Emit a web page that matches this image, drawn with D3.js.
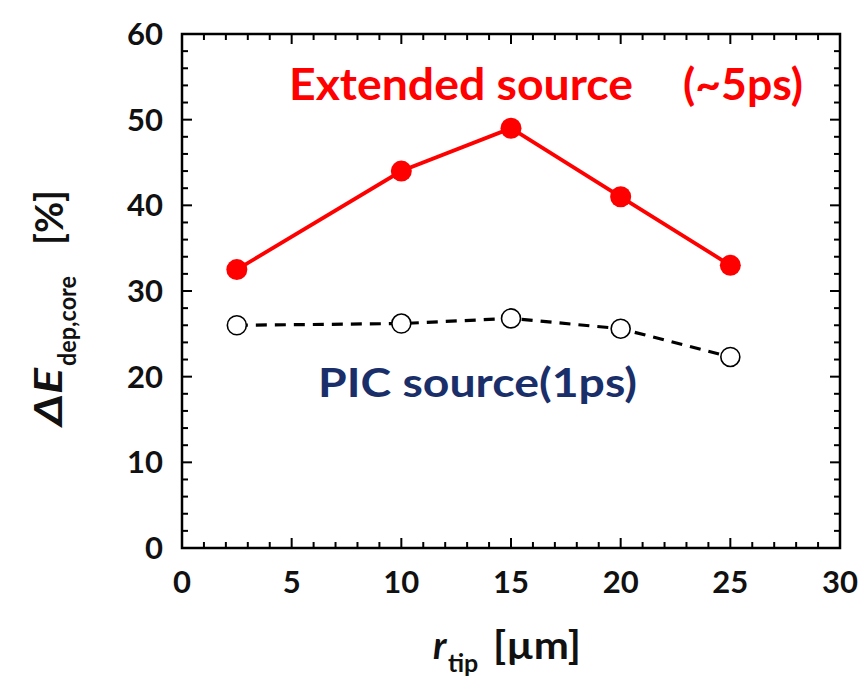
<!DOCTYPE html>
<html>
<head>
<meta charset="UTF-8" />
<title>Edep core vs r_tip</title>
<script src="https://cdn.jsdelivr.net/npm/d3@7"></script>
<style>
  html, body { margin: 0; padding: 0; background: #fff; }
  svg { display: block; }
  text { font-family: Lato, "Open Sans", sans-serif; font-weight: bold; }
</style>
</head>
<body>
<svg id="chart" width="861" height="677"></svg>
<script>
// data
const rTip = [2.5, 10, 15, 20, 25];
const extendedSource = [32.5, 44, 49, 41, 33];
const picSource = [26, 26.2, 26.8, 25.6, 22.3];
const xTicks = [0, 5, 10, 15, 20, 25, 30];
const yTicks = [0, 10, 20, 30, 40, 50, 60];

const svg = d3.select('#chart');
const plotL = 182, plotR = 840, plotT = 34, plotB = 548;

const x = d3.scaleLinear().domain([0, 30]).range([plotL, plotR]);
const y = d3.scaleLinear().domain([0, 60]).range([plotB, plotT]);

// minor + major ticks, mirrored on all four sides, pointing inward
const axes = svg.append('g').attr('stroke', '#000').attr('stroke-width', 2);
d3.range(0, 31, 1).forEach(v => {
  const len = v % 5 === 0 ? 10 : 6;
  axes.append('line').attr('x1', x(v)).attr('x2', x(v)).attr('y1', plotB).attr('y2', plotB - len);
  axes.append('line').attr('x1', x(v)).attr('x2', x(v)).attr('y1', plotT).attr('y2', plotT + len);
});
d3.range(0, 61, 2).forEach(v => {
  const len = v % 10 === 0 ? 10 : 6;
  axes.append('line').attr('y1', y(v)).attr('y2', y(v)).attr('x1', plotL).attr('x2', plotL + len);
  axes.append('line').attr('y1', y(v)).attr('y2', y(v)).attr('x1', plotR).attr('x2', plotR - len);
});
svg.append('rect')
  .attr('x', plotL).attr('y', plotT)
  .attr('width', plotR - plotL).attr('height', plotB - plotT)
  .attr('fill', 'none').attr('stroke', '#000').attr('stroke-width', 2.5);

// tick labels
svg.append('g').selectAll('text').data(xTicks).join('text')
  .attr('x', d => x(d)).attr('y', 593)
  .attr('text-anchor', 'middle').attr('font-size', 31).attr('fill', '#111')
  .text(d => d);
svg.append('g').selectAll('text').data(yTicks).join('text')
  .attr('x', 163).attr('y', d => y(d) + 11)
  .attr('text-anchor', 'end').attr('font-size', 31).attr('fill', '#111')
  .text(d => d);

// PIC source series: dashed black with open circles
const line = d3.line().x(d => x(d[0])).y(d => y(d[1]));
const picPts = rTip.map((r, i) => [r, picSource[i]]);
svg.append('path').datum(picPts)
  .attr('d', line).attr('fill', 'none')
  .attr('stroke', '#000').attr('stroke-width', 3.2).attr('stroke-dasharray', '11,8');
svg.append('g').selectAll('circle').data(picPts).join('circle')
  .attr('cx', d => x(d[0])).attr('cy', d => y(d[1])).attr('r', 9.5)
  .attr('fill', '#fff').attr('stroke', '#000').attr('stroke-width', 1.6);

// Extended source series: solid red with filled circles
const extPts = rTip.map((r, i) => [r, extendedSource[i]]);
svg.append('path').datum(extPts)
  .attr('d', line).attr('fill', 'none')
  .attr('stroke', '#ff0000').attr('stroke-width', 3.8);
svg.append('g').selectAll('circle').data(extPts).join('circle')
  .attr('cx', d => x(d[0])).attr('cy', d => y(d[1])).attr('r', 10.5)
  .attr('fill', '#ff0000');

// series labels
svg.append('text').attr('x', 289).attr('y', 100)
  .attr('font-size', 43).attr('fill', '#ff0000')
  .attr('textLength', 344).attr('lengthAdjust', 'spacingAndGlyphs')
  .text('Extended source');
svg.append('text').attr('x', 683).attr('y', 100)
  .attr('font-size', 43).attr('fill', '#ff0000')
  .attr('textLength', 120).attr('lengthAdjust', 'spacingAndGlyphs')
  .text('(~5ps)');
svg.append('text').attr('x', 318).attr('y', 397)
  .attr('font-size', 40).attr('fill', '#1a2f6a')
  .attr('textLength', 319).attr('lengthAdjust', 'spacingAndGlyphs')
  .text('PIC source(1ps)');

// x axis title
svg.append('text').attr('x', 433).attr('y', 659).attr('font-size', 38).attr('fill', '#111')
  .attr('font-style', 'italic').text('r');
svg.append('text').attr('x', 448).attr('y', 672).attr('font-size', 25).attr('fill', '#111')
  .text('tip');
svg.append('text').attr('x', 493).attr('y', 659).attr('font-size', 38).attr('fill', '#111')
  .attr('textLength', 88).attr('lengthAdjust', 'spacingAndGlyphs')
  .text('[µm]');

// y axis title (rotated pieces)
svg.append('text').attr('transform', 'translate(62,426) rotate(-90)')
  .attr('font-size', 39).attr('font-style', 'italic').attr('fill', '#111')
  .attr('textLength', 58).attr('lengthAdjust', 'spacingAndGlyphs')
  .text('ΔE');
svg.append('text').attr('transform', 'translate(76,366) rotate(-90)')
  .attr('font-size', 25).attr('fill', '#111')
  .attr('textLength', 90).attr('lengthAdjust', 'spacingAndGlyphs')
  .text('dep,core');
svg.append('text').attr('transform', 'translate(63,245) rotate(-90)')
  .attr('font-size', 38).attr('fill', '#111')
  .attr('textLength', 55).attr('lengthAdjust', 'spacingAndGlyphs')
  .text('[%]');
</script>
</body>
</html>
